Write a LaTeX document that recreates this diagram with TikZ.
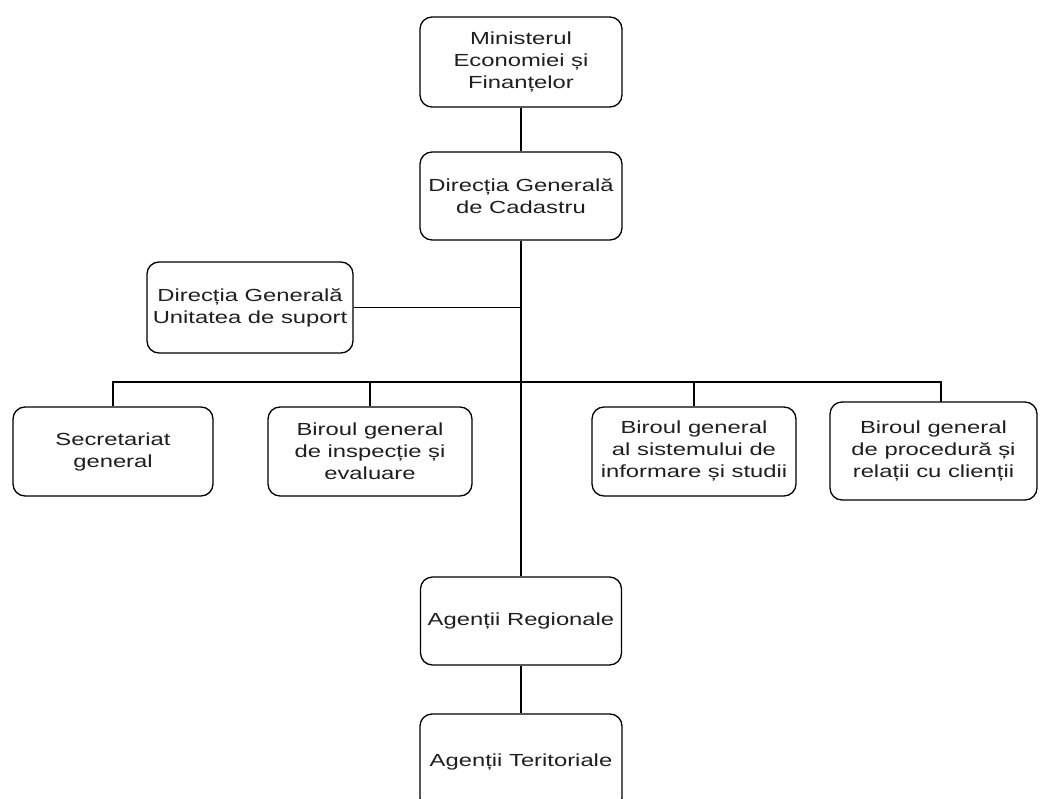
\documentclass[tikz,border=0pt]{standalone}
\usepackage{fontspec}
\setmainfont{Liberation Sans}[FakeStretch=1.36]
\begin{document}
\begin{tikzpicture}[x=1pt,y=-1pt,
  orgbox/.style={draw=black, line width=1.3pt, rounded corners=12pt, align=center, inner sep=0pt,
    text=black!88, font=\fontsize{17.5}{22}\selectfont},
  link/.style={draw=black, line width=1.3pt}]
\useasboundingbox (0,0) rectangle (1040,799);
\clip (0,0) rectangle (1040,799);
\fill[white] (0,0) rectangle (1040,799);
\node[orgbox, minimum width=202pt, minimum height=90pt] (min) at (521,62) {Ministerul\\Economiei și\\Finanțelor};
\node[orgbox, minimum width=202pt, minimum height=88pt] (dgc) at (521,196) {Direcția Generală\\de Cadastru};
\node[orgbox, minimum width=206pt, minimum height=91pt] (dgus) at (250,307.5) {Direcția Generală\\Unitatea de suport};
\node[orgbox, minimum width=200pt, minimum height=89pt] (sec) at (113,451.5) {Secretariat\\general};
\node[orgbox, minimum width=204pt, minimum height=89pt] (bie) at (370,451.5) {Biroul general\\de inspecție și\\evaluare};
\node[orgbox, minimum width=204pt, minimum height=89pt] (bsi) at (694,451.5) {Biroul general\\al sistemului de\\informare și studii};
\node[orgbox, minimum width=207pt, minimum height=98pt] (bpr) at (933.5,451) {Biroul general\\de procedură și\\relații cu clienții};
\node[orgbox, minimum width=201pt, minimum height=88pt] (ar) at (521,621) {Agenții Regionale};
\node[orgbox, minimum width=202pt, minimum height=96pt] (at) at (521,762) {Agenții Teritoriale};
\coordinate (busY) at (520,382);
\coordinate (d4) at (941,402);
\draw[link] (min) -- (dgc);
\draw[link] (dgc.south) -- (ar.north);
\draw[link] (dgus.east) -- (dgus.east -| dgc.south);
\draw[link] (sec.north) -- (sec.north |- busY) -- (d4 |- busY) -- (d4);
\draw[link] (bie.north) -- (bie.north |- busY);
\draw[link] (bsi.north) -- (bsi.north |- busY);
\draw[link] (ar) -- (at);
\end{tikzpicture}
\end{document}
